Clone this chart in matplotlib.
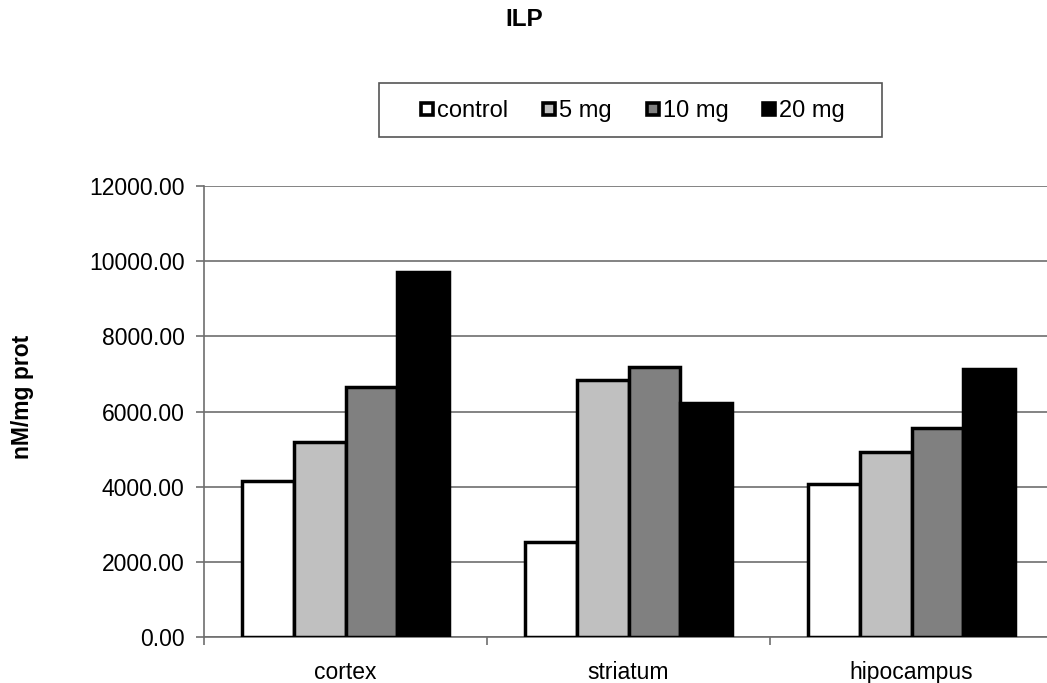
import matplotlib
matplotlib.use("Agg")
import matplotlib.pyplot as plt
import numpy as np
from matplotlib.lines import Line2D
from matplotlib.patches import Rectangle
from matplotlib.ticker import FormatStrFormatter, FixedLocator

plt.rcParams['font.family'] = ['Liberation Sans', 'DejaVu Sans']

categories = ["cortex", "striatum", "hipocampus"]
series_names = ["control", "5 mg", "10 mg", "20 mg"]
control = [4150, 2530, 4080]
mg5 = [5180, 6830, 4930]
mg10 = [6660, 7190, 5570]
mg20 = [9720, 6220, 7140]
series_values = [control, mg5, mg10, mg20]
colors = ["#FFFFFF", "#C0C0C0", "#808080", "#000000"]

W, H = 1047, 683
fig = plt.figure(figsize=(W / 100, H / 100), dpi=100)
ax = fig.add_axes([204 / W, 1 - 637 / H, (1053 - 204) / W, 451 / H])

x = np.arange(len(categories))
bw = 0.1835
n = len(series_names)
for i, (vals, c) in enumerate(zip(series_values, colors)):
    off = (i - (n - 1) / 2) * bw
    ax.bar(x + off, vals, width=bw, color=c, edgecolor="black",
           linewidth=2.5, zorder=3)

ax.set_xlim(-0.5, len(categories) - 0.5)
ax.set_ylim(0, 12000)
ax.set_yticks(np.arange(0, 12001, 2000))
ax.yaxis.set_major_formatter(FormatStrFormatter("%.2f"))
ax.yaxis.grid(True, color="#6e6e6e", linewidth=1.2, zorder=0)

ax.xaxis.set_major_locator(FixedLocator(np.arange(-0.5, len(categories), 1.0)))
ax.xaxis.set_minor_locator(FixedLocator(x))
ax.set_xticklabels([""] * 4)
ax.set_xticklabels(categories, minor=True)
ax.tick_params(axis="x", which="major", length=6, width=1.2, color="#6e6e6e", direction="out")
ax.tick_params(axis="x", which="minor", length=0, pad=17, labelsize=16.5)
ax.tick_params(axis="y", length=6, width=1.2, color="#6e6e6e", direction="out",
               pad=8, labelsize=16.5)

for s in ["top", "right"]:
    ax.spines[s].set_visible(False)
for s in ["left", "bottom"]:
    ax.spines[s].set_color("#6e6e6e")
    ax.spines[s].set_linewidth(1.2)

fig.text(22 / W, 1 - 397 / H, "nM/mg prot", rotation=90, fontsize=16.5,
         fontweight="bold", ha="center", va="center")
fig.text(524 / W, 1 - 19 / H, "ILP", fontsize=17.5, fontweight="bold",
         ha="center", va="center")

# legend box
fig.patches.append(Rectangle((379 / W, 1 - 137 / H), 503 / W, 54 / H,
                             transform=fig.transFigure, fill=False,
                             edgecolor="#555555", linewidth=1.2))
handles = [Line2D([], [], marker="s", linestyle="none", markersize=9,
                  markerfacecolor=c, markeredgecolor="black",
                  markeredgewidth=2.6) for c in colors]
fig.legend(handles, series_names, loc="center",
           bbox_to_anchor=(633 / W, 1 - 111 / H), ncol=4, frameon=False,
           fontsize=17, handlelength=0.55, handletextpad=0.15,
           columnspacing=1.45, borderpad=0.2)

fig.savefig("out.png", dpi=100)
